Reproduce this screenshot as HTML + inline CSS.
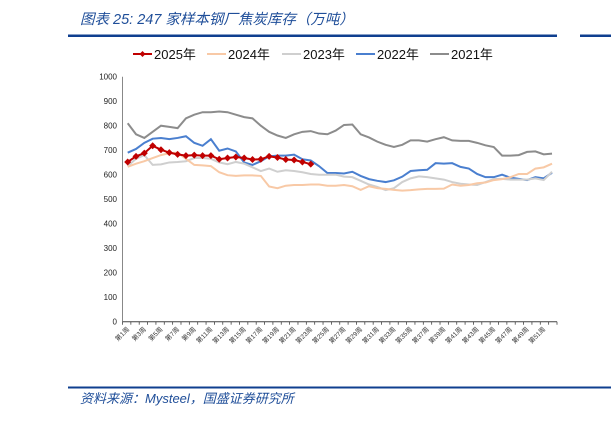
<!DOCTYPE html>
<html><head><meta charset="utf-8"><style>
body{margin:0;width:611px;height:418px;background:#fff;overflow:hidden;font-family:"Liberation Sans","Noto Sans CJK SC",sans-serif}
</style></head><body>
<svg width="611" height="418" viewBox="0 0 611 418">
<text x="80" y="24" font-size="14.5" fill="#1f4e99" font-style="italic" font-family="Liberation Sans,Noto Sans CJK SC,sans-serif">图表 25:  247 家样本钢厂焦炭库存（万吨）</text>
<rect x="68" y="34.5" width="489" height="2.5" fill="#0f3f8f"/>
<rect x="580" y="34.5" width="31" height="2.5" fill="#0f3f8f"/>
<g id="legend"></g>
<g id="axes"></g>
<g id="plot"></g>
<rect x="68" y="386.5" width="543" height="2" fill="#0f3f8f"/>
<text x="80" y="403" font-size="13" fill="#1f4e99" font-style="italic" font-family="Liberation Sans,Noto Sans CJK SC,sans-serif">资料来源：Mysteel，国盛证券研究所</text>
</svg>
<script>
const weeks = Array.from({length:52},(_,i)=>'第'+(i+1)+'周');
const yTicks=[0,100,200,300,400,500,600,700,800,900,1000];
const s2021=[810,765,750,775,800,795,790,830,845,855,855,858,855,845,835,830,800,775,760,750,765,775,778,768,765,780,803,805,765,752,735,722,713,722,740,740,735,745,753,740,738,738,730,720,713,678,678,680,693,695,683,686];
const s2022=[690,705,730,747,750,745,750,757,730,718,745,698,707,695,650,640,655,675,678,678,682,663,658,635,607,607,605,612,595,582,575,570,577,592,615,618,620,647,645,647,632,625,603,590,590,600,588,583,578,590,585,608];
const s2023=[635,665,680,640,642,650,652,655,668,668,665,650,643,652,645,630,615,625,612,618,615,610,603,600,600,600,592,590,575,560,550,537,545,570,585,593,590,585,580,570,563,560,558,570,582,583,580,580,580,585,578,612];
const s2024=[632,645,655,668,680,688,690,665,640,638,635,610,598,595,597,597,595,552,545,555,558,558,560,560,555,555,558,553,538,553,545,542,538,535,537,540,542,542,543,560,555,558,565,568,578,582,590,603,603,625,630,645];
const s2025=[652,675,688,718,702,690,683,678,680,678,678,663,668,672,668,662,663,675,670,662,660,652,643];
const NS='http://www.w3.org/2000/svg';
const X0=127.7,DX=8.32,Y0=321.7,YS=0.245;
const xs=i=>X0+i*DX, ys=v=>Y0-v*YS;
function mk(t,a,p){const e=document.createElementNS(NS,t);for(const k in a)e.setAttribute(k,a[k]);p.appendChild(e);return e;}
const axes=document.getElementById('axes'),plot=document.getElementById('plot'),leg=document.getElementById('legend');
const yl=mk('line',{x1:122.5,x2:122.5,y1:ys(1000),y2:Y0,stroke:'#888','stroke-width':1},axes);


const xl=mk('line',{x1:122.5,x2:557,y1:Y0,y2:Y0,stroke:'#444','stroke-width':1},axes);


yTicks.forEach(v=>{const t=mk('text',{x:117,y:ys(v)+3,'font-size':8,'text-anchor':'end',fill:'#222'},axes);t.textContent=v;

});
for(let i=0;i<=52;i++){const x=122.5+i*(557-122.5)/52;mk('line',{x1:x,x2:x,y1:Y0,y2:Y0+3,stroke:'#444','stroke-width':0.8},axes);}
weeks.forEach((w,i)=>{if(i%2)return;const x=xs(i)+2,y=Y0+8;const t=mk('text',{x:x,y:y,'font-size':6.5,'text-anchor':'end',fill:'#333',transform:`rotate(-45 ${x} ${y})`},axes);t.textContent=w;

});
const series=[['2021年',s2021,'#8c8c8c','series-2021'],['2022年',s2022,'#4a7fcf','series-2022'],['2023年',s2023,'#cfcfcf','series-2023'],['2024年',s2024,'#f8c9a6','series-2024'],['2025年',s2025,'#c00000','series-2025']];
series.forEach(([n,d,c,nm])=>{const p=mk('polyline',{points:d.map((v,i)=>xs(i)+','+ys(v)).join(' '),fill:'none',stroke:c,'stroke-width':2},plot);

});
s2025.forEach((v,i)=>{const m=mk('path',{d:`M${xs(i)} ${ys(v)-3.5}L${xs(i)+3.5} ${ys(v)}L${xs(i)} ${ys(v)+3.5}L${xs(i)-3.5} ${ys(v)}Z`,fill:'#c00000'},plot);

});
const legItems=[['2025年','#c00000',133],['2024年','#f8c9a6',207],['2023年','#cfcfcf',282],['2022年','#4a7fcf',356],['2021年','#8c8c8c',430]];
legItems.forEach(([n,c,x],k)=>{const g=mk('g',{},leg);


mk('line',{x1:x,x2:x+19,y1:54,y2:54,stroke:c,'stroke-width':2},g);
if(k===0)mk('path',{d:`M${x+9.5} 51L${x+12.5} 54L${x+9.5} 57L${x+6.5} 54Z`,fill:c},g);
const t=mk('text',{x:x+21,y:59,'font-size':13,fill:'#111'},g);t.textContent=n;});
</script>
</body></html>
